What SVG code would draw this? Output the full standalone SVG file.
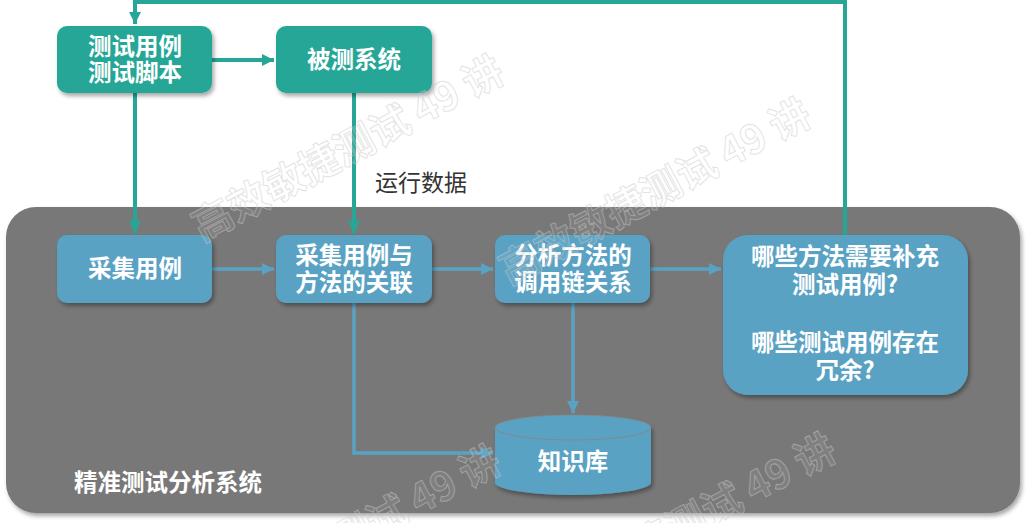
<svg xmlns="http://www.w3.org/2000/svg" width="1026" height="523" viewBox="0 0 1026 523">
<style>
.lbl{font-family:"Noto Sans CJK SC","Liberation Sans",sans-serif;font-size:23.5px;font-weight:bold;fill:#ffffff;text-anchor:middle}
.plain{font-family:"Noto Sans CJK SC","Liberation Sans",sans-serif;font-size:23px;fill:#333333}
.teal{fill:#27a697}
.blue{fill:#5aa2c4}
.tl{stroke:#27a697;stroke-width:4;fill:none}
.bl{stroke:#5aa2c4;stroke-width:3.5;fill:none}
.wm{font-family:"Noto Sans CJK SC","Liberation Sans",sans-serif;font-size:40px;font-weight:bold;fill:#ffffff;fill-opacity:0.07;stroke:#c8c8c8;stroke-opacity:0.5;stroke-width:1;text-anchor:end}
</style>
<defs>
<filter id="sh" x="-10%" y="-10%" width="130%" height="140%">
<feDropShadow dx="2" dy="3" stdDeviation="2" flood-color="#000" flood-opacity="0.35"/>
</filter>
<marker id="at" markerUnits="userSpaceOnUse" markerWidth="12" markerHeight="12" refX="12" refY="6" orient="auto">
<path d="M0,0 L12,6 L0,12 z" fill="#27a697"/>
</marker>
<marker id="ab" markerUnits="userSpaceOnUse" markerWidth="12" markerHeight="12" refX="12" refY="6" orient="auto">
<path d="M0,0 L12,6 L0,12 z" fill="#5aa2c4"/>
</marker>
</defs>
<rect width="1026" height="523" fill="#ffffff"/>
<g id="panel">
<rect x="6" y="207" width="1014" height="306" rx="30" fill="#787878" filter="url(#sh)"/>
<text class="lbl" x="168" y="491">精准测试分析系统</text>
</g>
<g id="connectors">
<path class="tl" d="M845,235 V2 H135 V24" marker-end="url(#at)"/>
<path class="tl" d="M212,60 H274" marker-end="url(#at)"/>
<path class="tl" d="M135,93 V233" marker-end="url(#at)"/>
<path class="tl" d="M354,93 V233" marker-end="url(#at)"/>
<path class="bl" d="M212,269 H274" marker-end="url(#ab)"/>
<path class="bl" d="M432,269 H493" marker-end="url(#ab)"/>
<path class="bl" d="M650,269 H721" marker-end="url(#ab)"/>
<path class="bl" d="M573,303 V413" marker-end="url(#ab)"/>
<path class="bl" d="M354,303 V453 H493" marker-end="url(#ab)"/>
</g>
<text class="plain" x="375" y="191">运行数据</text>
<g id="testcases">
<rect class="teal" x="57" y="26" width="155" height="67" rx="10" filter="url(#sh)"/>
<text class="lbl" x="135" y="55">测试用例<tspan x="135" dy="26">测试脚本</tspan></text>
</g>
<g id="sut">
<rect class="teal" x="276" y="26" width="156" height="67" rx="10" filter="url(#sh)"/>
<text class="lbl" x="354" y="68">被测系统</text>
</g>
<g id="collect">
<rect class="blue" x="57" y="235" width="155" height="68" rx="10" filter="url(#sh)"/>
<text class="lbl" x="135" y="277">采集用例</text>
</g>
<g id="associate">
<rect class="blue" x="276" y="235" width="156" height="68" rx="10" filter="url(#sh)"/>
<text class="lbl" x="354" y="264">采集用例与<tspan x="354" dy="27">方法的关联</tspan></text>
</g>
<g id="callchain">
<rect class="blue" x="495" y="235" width="155" height="68" rx="10" filter="url(#sh)"/>
<text class="lbl" x="573" y="264">分析方法的<tspan x="573" dy="27">调用链关系</tspan></text>
</g>
<g id="questions">
<rect class="blue" x="723" y="235" width="245" height="160" rx="25" filter="url(#sh)"/>
<text class="lbl" x="845" y="265">哪些方法需要补充<tspan x="845" dy="28">测试用例?</tspan><tspan x="845" dy="58">哪些测试用例存在</tspan><tspan x="845" dy="28">冗余?</tspan></text>
</g>
<g id="knowledge">
<path class="blue" d="M495,427.5 A78,12.5 0 0 1 651,427.5 V482.5 A78,12.5 0 0 1 495,482.5 Z" filter="url(#sh)"/>
<ellipse cx="573" cy="427.5" rx="78" ry="12.5" fill="#5aa2c4" stroke="#7e8a90" stroke-width="1"/>
<text class="lbl" x="573" y="470">知识库</text>
</g>
<g id="watermark">
<text class="wm" transform="translate(507,80) rotate(-28)">高效敏捷测试 49 讲</text>
<text class="wm" transform="translate(814,123) rotate(-28)">高效敏捷测试 49 讲</text>
<text class="wm" transform="translate(504,470) rotate(-28)">高效敏捷测试 49 讲</text>
<text class="wm" transform="translate(839,458) rotate(-28)">高效敏捷测试 49 讲</text>
</g>
</svg>
